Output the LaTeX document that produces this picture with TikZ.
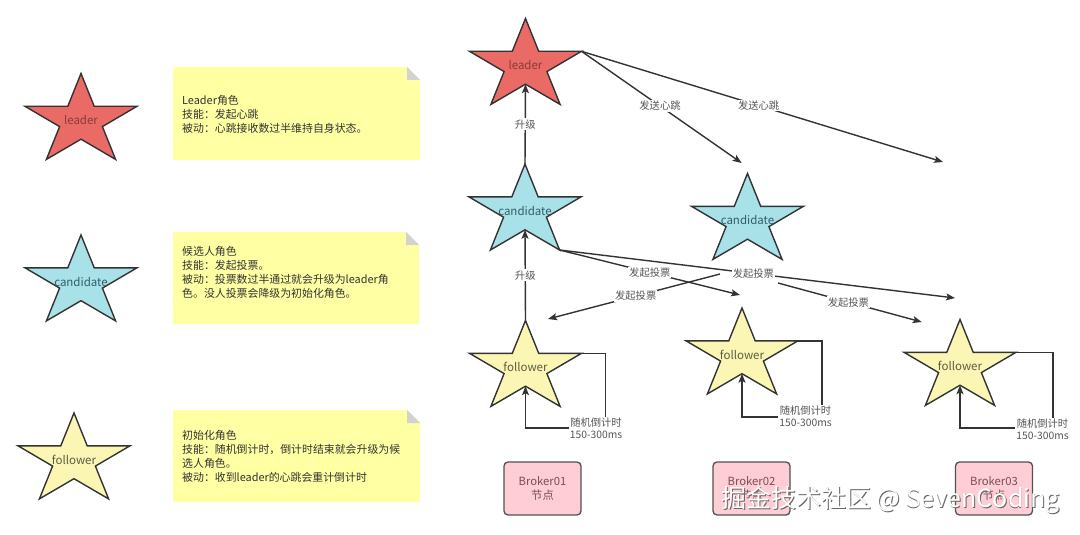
\documentclass[tikz,border=0pt]{standalone}
\usepackage{fontspec}
\setmainfont{Noto Sans CJK SC}
\usetikzlibrary{arrows.meta,calc}
\definecolor{ink}{HTML}{333333}
\definecolor{leaderfill}{HTML}{EA6B66}
\definecolor{candfill}{HTML}{A9E1E8}
\definecolor{follfill}{HTML}{FBF6B4}
\definecolor{notefill}{HTML}{FFFFA3}
\definecolor{foldc}{HTML}{D2D2D2}
\definecolor{brokerfill}{HTML}{FFCDD5}
\definecolor{leadertxt}{HTML}{8A3A3A}
\definecolor{candtxt}{HTML}{2F5E6A}
\definecolor{folltxt}{HTML}{5E5C40}
\definecolor{brokertxt}{HTML}{7A4F57}
\definecolor{lbltxt}{HTML}{555555}
\tikzset{
  starline/.style={draw=ink,line width=1.4pt,line join=miter},
  startxt/.style={inner sep=0pt,font=\fontsize{11.5}{13}\selectfont},
  pics/rstar/.style n args={3}{code={
    \draw[starline,fill=#1] (0,-47.5) -- (13.2,-14.7) -- (56,-14.7) -- (21.4,5.6) -- (34.6,38.4) -- (0,18.2) -- (-34.6,38.4) -- (-21.4,5.6) -- (-56,-14.7) -- (-13.2,-14.7) -- cycle;
    \coordinate (-top) at (0,-47.5);
    \coordinate (-right) at (56,-14.7);
    \coordinate (-br) at (34.6,38.4);
    \coordinate (-ib) at (0,18.2);
    \node[startxt,text=#2] (-c) at (0,-1) {#3};
  }},
  notebox/.style={fill=notefill},
  notefold/.style={fill=foldc},
  notetxt/.style={anchor=west,align=left,inner sep=0pt,text=ink,font=\fontsize{10.9}{14}\selectfont},
  arr/.style={draw=ink,line width=1.4pt,-{Stealth[length=9pt,width=7pt,inset=2pt]}},
  lbl/.style={fill=white,inner sep=1pt,text=lbltxt,font=\fontsize{10.3}{12}\selectfont,align=center},
  broker/.style={draw=ink!85,line width=1.3pt,fill=brokerfill,rounded corners=4pt,minimum width=77pt,minimum height=53pt,align=center,text=brokertxt,font=\fontsize{11.3}{13.5}\selectfont},
  wmark/.style={inner sep=0pt,font=\fontsize{25}{28}\selectfont}
}
\begin{document}
\begin{tikzpicture}[x=1pt,y=-1pt]
\useasboundingbox (0,0) rectangle (1080,535);
\fill[white] (0,0) rectangle (1080,535);

% ---- legend stars
\pic (Lleader) at (81,121) {rstar={leaderfill}{leadertxt}{leader}};
\pic (Lcand) at (81,282.5) {rstar={candfill}{candtxt}{candidate}};
\pic (Lfoll) at (74,460.5) {rstar={follfill}{folltxt}{follower}};

% ---- notes
\fill[notebox] (173,67) -- (407,67) -- (420,80) -- (420,160) -- (173,160) -- cycle;
\fill[notefold] (407,67) -- (420,80) -- (407,80) -- cycle;
\node[notetxt] (n1) at (182,114) {Leader角色\\技能：发起心跳\\被动：心跳接收数过半维持自身状态。};

\fill[notebox] (173,232) -- (406,232) -- (419,245) -- (419,324) -- (173,324) -- cycle;
\fill[notefold] (406,232) -- (419,245) -- (406,245) -- cycle;
\node[notetxt] (n2) at (182,272) {候选人角色\\技能：发起投票。\\被动：投票数过半通过就会升级为leader角\\色。没人投票会降级为初始化角色。};

\fill[notebox] (173,410) -- (407,410) -- (420,423) -- (420,502) -- (173,502) -- cycle;
\fill[notefold] (407,410) -- (420,423) -- (407,423) -- cycle;
\node[notetxt] (n3) at (182,456) {初始化角色\\技能：随机倒计时，倒计时结束就会升级为候\\选人角色。\\被动：收到leader的心跳会重计倒计时};

% ---- main stars
\pic (leader) at (525.5,66) {rstar={leaderfill}{leadertxt}{leader}};
\pic (cand) at (525,211.6) {rstar={candfill}{candtxt}{candidate}};
\pic (cand2) at (747.5,221) {rstar={candfill}{candtxt}{candidate}};
\pic (F1) at (525.5,368) {rstar={follfill}{folltxt}{follower}};
\pic (F2) at (742,355.5) {rstar={follfill}{folltxt}{follower}};
\pic (F3) at (960,367) {rstar={follfill}{folltxt}{follower}};

% ---- free ends
\coordinate (hb1) at (741.7,163);
\coordinate (hb2) at (943,162);
\coordinate (v1) at (740,295);
\coordinate (v2) at (955,298);
\coordinate (s1) at (720,274);
\coordinate (v3) at (548,319);
\coordinate (s2) at (778,283);
\coordinate (v4) at (921.7,322);
\coordinate (L1) at (605.7,428);
\coordinate (L2) at (822,417);
\coordinate (L3) at (1053,428);

% ---- connectors
\draw[arr] (cand-top) -- node[lbl]{升级} (leader-ib);
\draw[arr] (F1-top) -- node[lbl]{升级} (cand-ib);
\draw[arr] (leader-right) -- node[lbl,pos=0.49]{发送心跳} (hb1);
\draw[arr] (leader-right) -- node[lbl,pos=0.49]{发送心跳} (hb2);
\draw[arr] (cand-br) -- node[lbl]{发起投票} (v1);
\draw[arr] (cand-br) -- node[lbl,pos=0.49]{发起投票} (v2);
\draw[arr] (s1) -- node[lbl,pos=0.49]{发起投票} (v3);
\draw[arr] (s2) -- node[lbl,pos=0.49]{发起投票} (v4);

\draw[arr] (F1-right) -| (L1) -| (F1-ib);
\draw[arr] (F2-right) -| (L2) -| (F2-ib);
\draw[arr] (F3-right) -| (L3) -| (F3-ib);
\node[lbl] (t1) at (596,428) {随机倒计时\\150-300ms};
\node[lbl] (t2) at (805.5,416) {随机倒计时\\150-300ms};
\node[lbl] (t3) at (1042.5,429) {随机倒计时\\150-300ms};

% ---- brokers
\node[broker] (b1) at (542.5,488.5) {Broker01\\节点};
\node[broker] (b2) at (751.5,488.5) {Broker02\\节点};
\node[broker] (b3) at (994,488.5) {Broker03\\节点};

% ---- watermark
\node[wmark,text=black!60] (wms) at (891.3,500.8) {掘金技术社区 @ SevenCoding};
\node[wmark,text=white] (wm) at (890.5,500) {掘金技术社区 @ SevenCoding};
\end{tikzpicture}
\end{document}
